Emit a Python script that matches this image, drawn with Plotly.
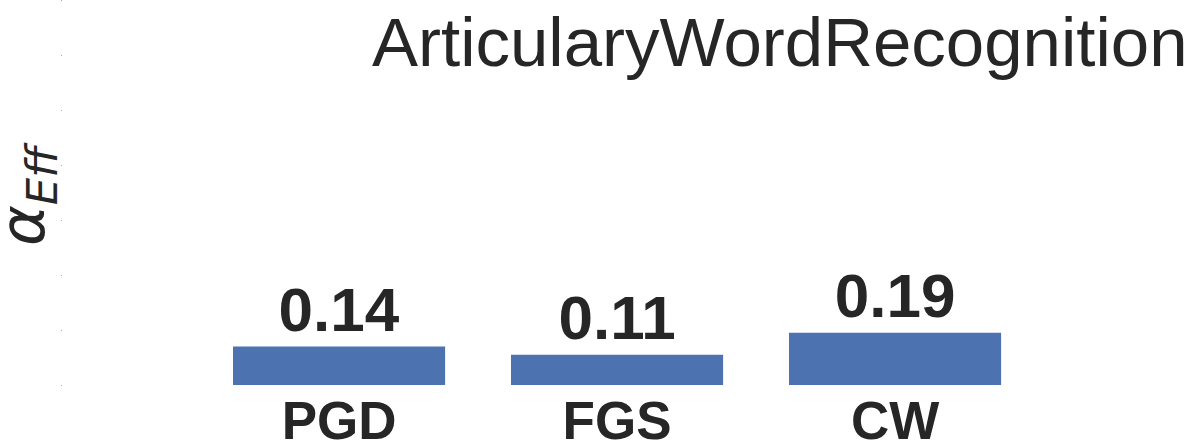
import plotly.graph_objects as go

# Data
attacks = ["PGD", "FGS", "CW"]
alpha_eff = [0.14, 0.11, 0.19]
y_ticks = [0, 0.2, 0.4, 0.6, 0.8, 1.0, 1.2, 1.4]

dark = "#262626"
font_family = "Liberation Sans, Arial, sans-serif"

fig = go.Figure()

fig.add_trace(go.Bar(
    x=attacks,
    y=alpha_eff,
    width=0.763,
    marker=dict(color="#4c72b0", line=dict(width=0)),
    text=[f"{v:.2f}" for v in alpha_eff],
    textposition="outside",
    constraintext="none",
    cliponaxis=False,
    textfont=dict(family=font_family, size=62, color=dark, weight="bold"),
))

# Title
fig.add_annotation(
    text="ArticularyWordRecognition",
    xref="paper", yref="paper",
    x=(780 - 63) / 1127, y=1.0,
    xanchor="center", yanchor="top",
    yshift=-2,
    showarrow=False,
    font=dict(family=font_family, size=69, color=dark),
)

# y-axis label
fig.add_annotation(
    text="<i>α</i><sub><i>Eff</i></sub>",
    xref="paper", yref="paper",
    x=(27 - 63) / 1127, y=(385 - 194) / 385,
    xanchor="center", yanchor="middle",
    textangle=-90,
    showarrow=False,
    font=dict(family="DejaVu Sans, sans-serif", size=62, color=dark),
)

fig.update_layout(
    width=1190, height=446,
    margin=dict(l=63, r=0, t=0, b=61, autoexpand=False),
    paper_bgcolor="white",
    plot_bgcolor="white",
    showlegend=False,
    xaxis=dict(
        range=[-0.993, 3.061],
        automargin=False,
        showline=False, showgrid=False, zeroline=False,
        ticks="",
        ticklabelstandoff=0,
        tickfont=dict(family=font_family, size=53, color=dark, weight="bold"),
    ),
    yaxis=dict(
        range=[0, 1.4],
        automargin=False,
        tickvals=y_ticks,
        showticklabels=False,
        showline=False, showgrid=False, zeroline=False,
        ticks="outside", ticklen=1, tickwidth=1, tickcolor="#aaaaaa",
    ),
)

fig.write_html("out.html", config={"displayModeBar": False},
               post_script="document.body.style.margin = '0';")
